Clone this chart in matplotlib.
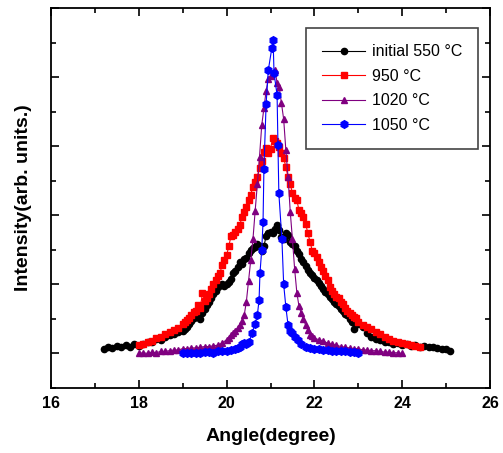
import matplotlib
matplotlib.use("Agg")
import matplotlib.pyplot as plt
from matplotlib.ticker import MultipleLocator, NullFormatter

plt.rcParams['font.family'] = ['Liberation Sans', 'DejaVu Sans']

# ---- data ----
x_550 = [17.2, 17.3, 17.4, 17.5, 17.6, 17.7, 17.8, 17.9, 18.0, 18.1, 18.2, 18.3, 18.4, 18.5,
         18.6, 18.7, 18.8, 18.9,
         19.00, 19.05, 19.10, 19.15, 19.20, 19.25, 19.30, 19.35, 19.40, 19.45, 19.50, 19.55,
         19.60, 19.65, 19.70, 19.75, 19.80, 19.85, 19.90, 19.95, 20.00, 20.05, 20.10, 20.15,
         20.20, 20.25, 20.30, 20.35, 20.40, 20.45, 20.50, 20.55, 20.60, 20.65, 20.70, 20.75,
         20.80, 20.85, 20.90, 20.95, 21.00, 21.05, 21.10, 21.15, 21.20, 21.25, 21.30, 21.35,
         21.40, 21.45, 21.50, 21.55, 21.60, 21.65, 21.70, 21.75, 21.80, 21.85, 21.90, 21.95,
         22.00, 22.05, 22.10, 22.15, 22.20, 22.25, 22.30, 22.35, 22.40, 22.45, 22.50, 22.55,
         22.60, 22.65, 22.70, 22.75, 22.80, 22.85, 22.90, 22.95, 23.00,
         23.1, 23.2, 23.3, 23.4, 23.5, 23.6, 23.7, 23.8, 23.9, 24.0, 24.1, 24.2, 24.3, 24.4,
         24.5, 24.6, 24.7, 24.8, 24.9, 25.0, 25.1]
y_550 = [0.07, 0.09, 0.08, 0.11, 0.09, 0.12, 0.10, 0.13, 0.11, 0.14, 0.17, 0.16, 0.21, 0.20,
         0.24, 0.26, 0.28, 0.31,
         0.33, 0.36, 0.38, 0.43, 0.47, 0.52, 0.55, 0.59, 0.50, 0.58, 0.64, 0.70,
         0.74, 0.80, 0.86, 0.90, 0.96, 0.99, 1.00, 0.98, 1.00, 1.03, 1.08, 1.17,
         1.20, 1.25, 1.32, 1.30, 1.36, 1.38, 1.45, 1.50, 1.52, 1.54, 1.59, 1.56,
         1.49, 1.55, 1.70, 1.74, 1.76, 1.75, 1.80, 1.86, 1.78, 1.68, 1.66, 1.74,
         1.71, 1.62, 1.58, 1.55, 1.48, 1.44, 1.36, 1.32, 1.27, 1.21, 1.17, 1.13,
         1.09, 1.06, 1.02, 0.98, 0.94, 0.89, 0.86, 0.81, 0.79, 0.75, 0.72, 0.68,
         0.65, 0.62, 0.57, 0.55, 0.50, 0.46, 0.36, 0.44, 0.43,
         0.38, 0.30, 0.24, 0.21, 0.19, 0.17, 0.16, 0.14, 0.15, 0.12, 0.13, 0.11, 0.12, 0.10,
         0.11, 0.09, 0.10, 0.08, 0.07, 0.06, 0.03]

x_950 = [18.0, 18.1, 18.2, 18.3, 18.4, 18.5, 18.6, 18.7, 18.8, 18.9,
         19.00, 19.05, 19.10, 19.15, 19.20, 19.25, 19.30, 19.35, 19.40, 19.45, 19.50, 19.55,
         19.60, 19.65, 19.70, 19.75, 19.80, 19.85, 19.90, 19.95, 20.00, 20.05, 20.10, 20.15,
         20.20, 20.25, 20.30, 20.35, 20.40, 20.45, 20.50, 20.55, 20.60, 20.65, 20.70, 20.75,
         20.80, 20.85, 20.90, 20.95, 21.00, 21.05, 21.10, 21.15, 21.20, 21.25, 21.30, 21.35,
         21.40, 21.45, 21.50, 21.55, 21.60, 21.65, 21.70, 21.75, 21.80, 21.85, 21.90, 21.95,
         22.00, 22.05, 22.10, 22.15, 22.20, 22.25, 22.30, 22.35, 22.40, 22.45, 22.50, 22.55,
         22.60, 22.65, 22.70, 22.75, 22.80, 22.85, 22.90, 22.95, 23.00,
         23.1, 23.2, 23.3, 23.4, 23.5, 23.6, 23.7, 23.8, 23.9, 24.0, 24.1, 24.2, 24.3, 24.4]
y_950 = [0.12, 0.14, 0.17, 0.18, 0.22, 0.24, 0.28, 0.31, 0.34, 0.37,
         0.43, 0.45, 0.48, 0.52, 0.55, 0.60, 0.62, 0.70, 0.66, 0.87, 0.76, 0.80,
         0.86, 0.94, 1.00, 1.06, 1.12, 1.17, 1.28, 1.35, 1.42, 1.55, 1.70, 1.72,
         1.76, 1.80, 1.86, 1.97, 2.05, 2.12, 2.22, 2.30, 2.41, 2.48, 2.55, 2.68,
         2.78, 2.91, 2.97, 2.90, 2.96, 3.12, 3.08, 3.04, 2.99, 2.90, 2.83, 2.70,
         2.55, 2.45, 2.32, 2.25, 2.22, 2.07, 2.03, 1.97, 1.88, 1.74, 1.62, 1.49,
         1.45, 1.39, 1.33, 1.25, 1.20, 1.12, 1.06, 0.96, 0.90, 0.86, 0.82, 0.80,
         0.75, 0.72, 0.66, 0.62, 0.58, 0.55, 0.53, 0.51, 0.46,
         0.41, 0.38, 0.35, 0.31, 0.28, 0.24, 0.21, 0.18, 0.16, 0.15, 0.14, 0.12, 0.11, 0.09]

x_1020 = [18.0, 18.1, 18.2, 18.3, 18.4, 18.5, 18.6, 18.7, 18.8, 18.9, 19.0, 19.1, 19.2, 19.3,
          19.4, 19.5, 19.6, 19.7, 19.8, 19.9,
          20.00, 20.05, 20.10, 20.15, 20.20, 20.25, 20.30, 20.35, 20.40, 20.45, 20.50, 20.55,
          20.60, 20.65, 20.70, 20.75, 20.80, 20.85, 20.90, 20.95, 21.00, 21.05, 21.10, 21.15,
          21.20, 21.25, 21.30, 21.35, 21.40, 21.45, 21.50, 21.55, 21.60, 21.65, 21.70, 21.75,
          21.80, 21.85, 21.90, 21.95,
          22.0, 22.1, 22.2, 22.3, 22.4, 22.5, 22.6, 22.7, 22.8, 22.9, 23.0, 23.1, 23.2, 23.3,
          23.4, 23.5, 23.6, 23.7, 23.8, 23.9, 24.0]
y_1020 = [0.00, 0.01, 0.00, 0.02, 0.01, 0.03, 0.03, 0.04, 0.05, 0.05, 0.07, 0.07, 0.08, 0.08,
          0.09, 0.10, 0.10, 0.11, 0.12, 0.15,
          0.20, 0.23, 0.26, 0.29, 0.33, 0.37, 0.41, 0.47, 0.55, 0.75, 1.05, 1.35,
          1.65, 2.06, 2.45, 2.85, 3.30, 3.55, 3.80, 3.97, 4.02, 4.06, 4.10, 3.92,
          3.85, 3.62, 3.39, 2.94, 2.55, 2.05, 1.65, 1.22, 0.88, 0.68, 0.58, 0.50,
          0.41, 0.34, 0.27, 0.25,
          0.22, 0.20, 0.18, 0.15, 0.13, 0.12, 0.10, 0.09, 0.08, 0.07, 0.07, 0.05, 0.05, 0.04,
          0.04, 0.03, 0.02, 0.02, 0.01, 0.01, 0.00]

x_1050 = [19.0, 19.1, 19.2, 19.3, 19.4, 19.5, 19.6, 19.7, 19.8, 19.9, 20.0, 20.1, 20.2,
          20.25, 20.30, 20.35, 20.40, 20.45, 20.51, 20.58, 20.65, 20.70, 20.74, 20.76, 20.80,
          20.83, 20.85, 20.90, 20.95, 21.03, 21.06, 21.08, 21.15, 21.17, 21.19, 21.26, 21.30,
          21.35, 21.40, 21.45, 21.49, 21.55, 21.63, 21.70, 21.8, 21.9, 22.0, 22.1, 22.2, 22.3,
          22.4, 22.5, 22.6, 22.7, 22.8, 22.9, 23.0]
y_1050 = [0.00, 0.01, 0.00, 0.01, 0.01, 0.02, 0.02, 0.01, 0.03, 0.03, 0.04, 0.05, 0.06,
          0.08, 0.10, 0.13, 0.15, 0.14, 0.16, 0.29, 0.43, 0.55, 0.78, 1.16, 1.50,
          1.90, 2.67, 3.61, 4.10, 4.42, 4.53, 4.06, 3.74, 3.01, 2.32, 1.65, 1.00,
          0.67, 0.41, 0.33, 0.29, 0.24, 0.19, 0.14, 0.10, 0.08, 0.07, 0.06, 0.05, 0.05,
          0.04, 0.04, 0.03, 0.03, 0.02, 0.02, 0.01]

labels = ["initial 550 \u00b0C", "950 \u00b0C", "1020 \u00b0C", "1050 \u00b0C"]
colors = ["#000000", "#ff0000", "#800080", "#0000ff"]
markers = ["o", "s", "^", "h"]
msizes = [4.5, 4.0, 5.0, 5.5]

fig = plt.figure(figsize=(5.03, 4.53), dpi=100)
ax = fig.add_axes([51/503, 1-388/453, 439/503, 380/453])

series = [(x_550, y_550), (x_950, y_950), (x_1020, y_1020), (x_1050, y_1050)]
for (xs, ys), lab, c, m, ms in zip(series, labels, colors, markers, msizes):
    ax.plot(xs, ys, color=c, lw=0.8, marker=m, ms=ms, mec=c, mfc=c, label=lab)

ax.set_xlim(16, 26)
ax.set_ylim(-0.5, 5.0)
ax.xaxis.set_major_locator(MultipleLocator(2))
ax.xaxis.set_minor_locator(MultipleLocator(1))
ax.yaxis.set_major_locator(MultipleLocator(1))
ax.yaxis.set_minor_locator(MultipleLocator(0.5))
ax.yaxis.set_major_formatter(NullFormatter())
ax.tick_params(which='both', direction='in', top=True, right=True, width=1.2)
ax.tick_params(which='major', length=6)
ax.tick_params(which='minor', length=3.5)
for lab in ax.get_xticklabels():
    lab.set_fontweight('bold')
    lab.set_fontsize(11.5)
ax.tick_params(axis='x', pad=6)
for s in ax.spines.values():
    s.set_linewidth(1.3)

ax.set_xlabel("Angle(degree)", fontsize=14, fontweight='bold', labelpad=12)
ax.set_ylabel("Intensity(arb. units.)", fontsize=14, fontweight='bold', labelpad=10)

leg = ax.legend(loc='upper right', bbox_to_anchor=(0.973, 0.947), borderaxespad=0,
                fontsize=11.5, fancybox=False, edgecolor='#444444', framealpha=1,
                handlelength=2.7, labelspacing=0.6, borderpad=1.0, handletextpad=0.4)
leg.get_frame().set_linewidth(1.2)

fig.savefig("out.png", dpi=100)
